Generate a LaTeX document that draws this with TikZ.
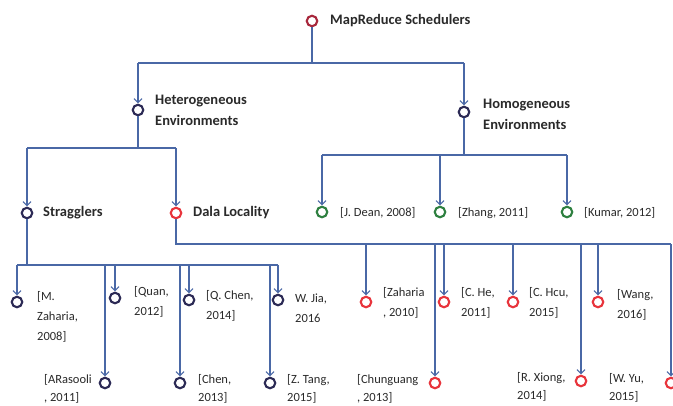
\documentclass[tikz,border=0pt]{standalone}
\usepackage{fontspec}
\setmainfont{Carlito}
\usetikzlibrary{arrows.meta}
\definecolor{linkblue}{HTML}{4A68A6}
\definecolor{rootred}{HTML}{A8283C}
\definecolor{navy}{HTML}{2C2A55}
\definecolor{leafred}{HTML}{E8343C}
\definecolor{leafgreen}{HTML}{2E8040}
\definecolor{ink}{HTML}{2A2A2A}
\tikzset{
  x=1pt, y=-1pt,
  dot/.style={circle, draw=#1, line width=2.1pt, minimum size=10.5pt, inner sep=0pt},
  link/.style={draw=linkblue, line width=1.4pt},
  arr/.style={link, -{Straight Barb[length=4pt,width=8pt,line width=1.1pt]}, shorten >=0.3pt},
  head/.style={anchor=west, align=left, inner sep=0pt, text=ink,
    font=\fontsize{14.5}{21}\selectfont\bfseries},
  cite/.style={anchor=west, align=left, inner sep=0pt, text=ink,
    font=\fontsize{12.5}{20}\selectfont},
  citelow/.style={cite, font=\fontsize{12.5}{18.5}\selectfont},
}
\begin{document}
\begin{tikzpicture}
\useasboundingbox (0,0) rectangle (673,405);
\fill[white] (0,0) rectangle (673,405);

% category circles
\node[dot=rootred] (root) at (312,21) {};
\node[dot=navy] (het) at (138,110) {};
\node[dot=navy] (hom) at (464,112) {};
\node[dot=navy] (strag) at (27,213) {};
\node[dot=leafred] (dala) at (176,213) {};
\node[dot=leafgreen] (dean) at (322,212) {};
\node[dot=leafgreen] (zhang) at (440,212) {};
\node[dot=leafgreen] (kumar) at (567,212) {};

% stragglers leaves
\node[dot=navy] (mza) at (17,302) {};
\node[dot=navy] (ara) at (105,383) {};
\node[dot=navy] (quan) at (115,298) {};
\node[dot=navy] (chen) at (180,383) {};
\node[dot=navy] (qchen) at (189,300) {};
\node[dot=navy] (ztang) at (270,383) {};
\node[dot=navy] (wjia) at (278,300) {};

% data locality leaves
\node[dot=leafred] (zah) at (366,302) {};
\node[dot=leafred] (chung) at (435,383) {};
\node[dot=leafred] (che) at (444,302) {};
\node[dot=leafred] (chcu) at (513,302) {};
\node[dot=leafred] (xiong) at (581,381) {};
\node[dot=leafred] (wang) at (598,302) {};
\node[dot=leafred] (wyu) at (671,383) {};

% labels
\node[head] (troot) at (330,21) {MapReduce Schedulers};
\node[head] (thet) at (155,110) {Heterogeneous\\Environments};
\node[head] (thom) at (483,114) {Homogeneous\\Environments};
\node[head] (tstrag) at (43,213) {Stragglers};
\node[head] (tdala) at (193,213) {Dala Locality};
\node[cite] (tdean) at (340,213) {[J. Dean, 2008]};
\node[cite] (tzhang) at (458,213) {[Zhang, 2011]};
\node[cite] (tkumar) at (584,213) {[Kumar, 2012]};

\node[cite] (tmza) at (37,317) {[M.\\Zaharia,\\2008]};
\node[cite] (tquan) at (134,302) {[Quan,\\2012]};
\node[cite] (tqchen) at (206,306) {[Q. Chen,\\2014]};
\node[cite] (twjia) at (295,308) {W. Jia,\\2016};
\node[citelow] (tara) at (44,389) {[ARasooli\\, 2011]};
\node[citelow] (tchen) at (198,389) {[Chen,\\2013]};
\node[citelow] (tztang) at (287,389) {[Z. Tang,\\2015]};

\node[cite] (tzah) at (383,303) {[Zaharia\\, 2010]};
\node[cite] (tche) at (461,303) {[C. He,\\2011]};
\node[cite] (tchcu) at (529,303) {[C. Hcu,\\2015]};
\node[cite] (twang) at (617,305) {[Wang,\\2016]};
\node[citelow] (tchung) at (357,389) {[Chunguang\\, 2013]};
\node[citelow] (txiong) at (517,387) {[R. Xiong,\\2014]};
\node[citelow] (twyu) at (609,388) {[W. Yu,\\2015]};

% bus junctions
\coordinate (rbus) at (312,63);
\coordinate (hbus) at (138,148);
\coordinate (obus) at (464,155);
\coordinate (sbus) at (27,265);
\coordinate (dbus) at (176,244);

% root level
\draw[link] (root.south) -- (rbus);
\draw[link] (het.north |- rbus) -- (hom.north |- rbus);
\draw[arr] (het.north |- rbus) -- (het.north);
\draw[arr] (hom.north |- rbus) -- (hom.north);

% heterogeneous
\draw[link] (het.south) -- (hbus);
\draw[link] (strag.north |- hbus) -- (dala.north |- hbus);
\draw[arr] (strag.north |- hbus) -- (strag.north);
\draw[arr] (dala.north |- hbus) -- (dala.north);

% homogeneous
\draw[link] (hom.south) -- (obus);
\draw[link] (dean.north |- obus) -- (kumar.north |- obus);
\foreach \n in {dean,zhang,kumar}
  \draw[arr] (\n.north |- obus) -- (\n.north);

% stragglers
\draw[link] (strag.south) -- (sbus);
\draw[link] (mza.north |- sbus) -- (wjia.north |- sbus);
\foreach \n in {mza,ara,quan,chen,qchen,ztang,wjia}
  \draw[arr] (\n.north |- sbus) -- (\n.north);

% data locality
\draw[link] (dala.south) -- (dbus) -- (wyu.north |- dbus);
\foreach \n in {zah,chung,che,chcu,xiong,wang,wyu}
  \draw[arr] (\n.north |- dbus) -- (\n.north);
\end{tikzpicture}
\end{document}
